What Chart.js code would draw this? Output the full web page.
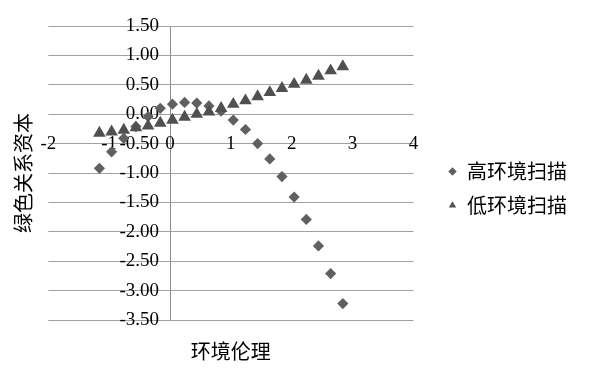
<!DOCTYPE html>
<html><head><meta charset="utf-8">
<script src="https://cdn.jsdelivr.net/npm/chart.js@4.4.1/dist/chart.umd.min.js"></script>
<style>html,body{margin:0;padding:0;background:#fff}canvas{display:block}</style>
</head><body>
<canvas id="c" width="590" height="382"></canvas>
<script>
const xValues = [-1.16, -0.96, -0.76, -0.56, -0.36, -0.16, 0.04, 0.24, 0.44, 0.64, 0.84, 1.04, 1.24, 1.44, 1.64, 1.84, 2.04, 2.24, 2.44, 2.64, 2.84];
const highScan = [-0.92, -0.64, -0.41, -0.21, -0.04, 0.10, 0.17, 0.20, 0.19, 0.14, 0.05, -0.10, -0.26, -0.50, -0.76, -1.06, -1.41, -1.79, -2.24, -2.71, -3.22];
const lowScan = [-0.32, -0.30, -0.27, -0.23, -0.20, -0.15, -0.10, -0.05, 0.00, 0.04, 0.10, 0.17, 0.23, 0.30, 0.37, 0.44, 0.51, 0.58, 0.65, 0.74, 0.81];
const seriesNames = ['高环境扫描', '低环境扫描'];
const xTickLabels = ['-2', '-1', '0', '1', '2', '3', '4'];
const yTickLabels = ['-3.50', '-3.00', '-2.50', '-2.00', '-1.50', '-1.00', '-0.50', '0.00', '0.50', '1.00', '1.50'];
const xAxisTitle = '环境伦理';
const yAxisTitle = '绿色关系资本';

const toPoints = (xs, ys) => xs.map((x, i) => ({x: x, y: ys[i]}));
const serif = '"Liberation Serif", "Times New Roman", serif';
const cjk = '"Noto Sans CJK SC", sans-serif';
const hidden = {display: true, min: 0, max: 1, ticks: {display: false}, grid: {display: false}, border: {display: false}};

new Chart(document.getElementById('c'), {
  type: 'scatter',
  data: {
    datasets: [
      {label: seriesNames[0], data: toPoints(xValues, highScan), pointStyle: 'rectRot', pointRadius: 5.6, pointHoverRadius: 5.6,
       backgroundColor: '#606060', borderColor: '#606060', pointBorderWidth: 0, order: 1},
      {label: seriesNames[1], data: toPoints(xValues, lowScan), pointStyle: 'triangle', pointRadius: 7.3, pointHoverRadius: 7.3,
       backgroundColor: '#505050', borderColor: '#505050', pointBorderWidth: 0, order: 0}
    ]
  },
  options: {
    responsive: false,
    animation: false,
    events: [],
    layout: {padding: {left: 0, right: 13, top: 0, bottom: 5}},
    plugins: {
      tooltip: {enabled: false},
      title: {display: false},
      legend: {
        position: 'right', align: 'center', fullSize: true, maxWidth: 220,
        labels: {usePointStyle: true, boxWidth: 9, boxHeight: 6, padding: 14, color: '#000', font: {family: cjk, size: 20},
                 sort: (a, b) => a.datasetIndex - b.datasetIndex}
      }
    },
    scales: {
      x: {
        type: 'linear', min: -2, max: 4, position: {y: -0.31},
        ticks: {stepSize: 1, padding: 0, autoSkip: false, maxRotation: 0, color: '#000', font: {family: serif, size: 19},
                callback: (v, i) => xTickLabels[i]},
        grid: {display: true, drawTicks: false, lineWidth: 1,
               color: c => (c.tick && c.tick.value === 0) ? '#8c8c8c' : 'rgba(0,0,0,0)'},
        border: {display: false}
      },
      y: {
        type: 'linear', min: -3.5, max: 1.5, position: {x: -0.18},
        ticks: {stepSize: 0.5, padding: 0, autoSkip: false, color: '#000', font: {family: serif, size: 19},
                callback: (v, i) => yTickLabels[i]},
        grid: {drawTicks: false, color: '#a0a0a0', lineWidth: 1},
        border: {display: false}
      },
      yTitleAxis: Object.assign({}, hidden, {axis: 'y', type: 'linear', position: 'left',
        title: {display: true, text: yAxisTitle, color: '#000', font: {family: cjk, size: 20}, padding: {top: 11, bottom: 0}},
        afterFit: s => { s.width = 48.3; }}),
      xTitleAxis: Object.assign({}, hidden, {axis: 'x', type: 'linear', position: 'bottom',
        title: {display: true, text: xAxisTitle, color: '#000', font: {family: cjk, size: 20}, padding: {top: 0, bottom: 13.4}},
        afterFit: s => { s.height = 57; }}),
      xTopPad: Object.assign({}, hidden, {axis: 'x', type: 'linear', position: 'top', afterFit: s => { s.height = 26; }}),
      yRightPad: Object.assign({}, hidden, {axis: 'y', type: 'linear', position: 'right', afterFit: s => { s.width = 20.6; }})
    }
  }
});
</script>
</body></html>
